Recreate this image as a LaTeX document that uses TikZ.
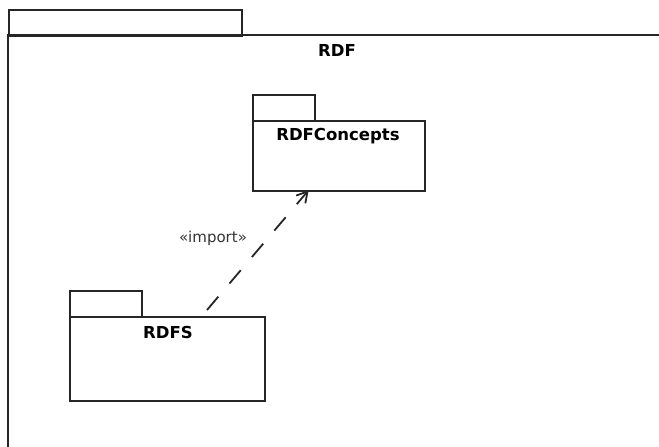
\documentclass[tikz,border=0pt]{standalone}
\usepackage{fontspec}
\setmainfont{DejaVu Sans}
\usetikzlibrary{calc}
\begin{document}
\begin{tikzpicture}[x=1pt,y=-1pt,
  pkgline/.style={draw=black!85,line width=1.8pt},
  pkgbox/.style={pkgline,rectangle,inner sep=0pt,anchor=north west},
  pkgname/.style={font=\bfseries\fontsize{16.5}{18}\selectfont,inner sep=0pt},
  importdep/.style={draw=black!85,line width=1.8pt,dash pattern=on 17.5pt off 17.2pt},
  barb/.style={draw=black!85,line width=1.8pt,solid,line join=miter},
  stereo/.style={font=\fontsize{15}{17}\selectfont,inner sep=0pt,text=black!80}]
\useasboundingbox (0,0) rectangle (659,447);
% outer package RDF
\node[pkgbox,minimum width=233pt,minimum height=26pt] (rdftab) at (8,9) {};
\coordinate (rdfTL) at (8,35);
\coordinate (rdfTR) at (660,35);
\coordinate (rdfBL) at (8,448);
\draw[pkgline] (rdfTR) -- (rdfTL) -- (rdfBL);
\node[pkgname] (rdflabel) at (337,50) {RDF};
% RDFConcepts
\node[pkgbox,minimum width=62pt,minimum height=26pt] (conceptstab) at (252,94) {};
\node[pkgbox,minimum width=172pt,minimum height=70pt] (concepts) at (252,120) {};
\node[pkgname] (conceptslabel) at (338,136) {RDFConcepts};
% RDFS
\node[pkgbox,minimum width=72pt,minimum height=26pt] (rdfstab) at (69,290) {};
\node[pkgbox,minimum width=195pt,minimum height=84pt] (rdfs) at (69,316) {};
\node[pkgname] (rdfslabel) at (168,332) {RDFS};
% import dependency
\coordinate (depstart) at (207,310);
\coordinate (depend) at (307.5,191.5);
\draw[importdep] (depstart) -- (depend);
\coordinate (barbA) at ($(depend)!12pt!30:(depstart)$);
\coordinate (barbB) at ($(depend)!12pt!-30:(depstart)$);
\draw[barb] (barbA) -- (depend) -- (barbB);
\node[stereo] (importlabel) at (213,238) {«import»};
\end{tikzpicture}
\end{document}
